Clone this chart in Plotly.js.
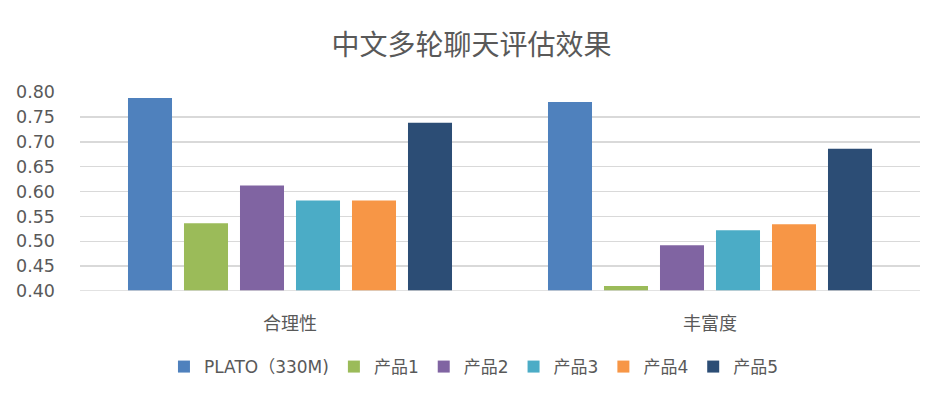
<!DOCTYPE html>
<html><head><meta charset="utf-8">
<script src="https://cdn.plot.ly/plotly-3.0.1.min.js"></script>
<style>body{margin:0;background:#fff}#chart{width:943px;height:397px}</style>
</head><body><div id="chart"></div>
<script>
const categories = ["合理性", "丰富度"];
const seriesNames = ["PLATO（330M)", "产品1", "产品2", "产品3", "产品4", "产品5"];
const plato = [0.788, 0.780];
const p1 = [0.536, 0.410];
const p2 = [0.612, 0.492];
const p3 = [0.582, 0.522];
const p4 = [0.582, 0.534];
const p5 = [0.738, 0.686];
const colors = ["#4f81bd", "#9bbb59", "#8064a2", "#4bacc6", "#f79646", "#2c4d75"];
const yTicks = [0.40, 0.45, 0.50, 0.55, 0.60, 0.65, 0.70, 0.75, 0.80];

const allVals = [plato, p1, p2, p3, p4, p5];
const font = "DejaVu Sans, Noto Sans CJK SC, sans-serif";
const traces = allVals.map((v, i) => ({
  type: "bar", x: categories, y: v, name: seriesNames[i],
  marker: {color: colors[i]}, hoverinfo: "y"
}));
const layout = {
  width: 943, height: 397,
  margin: {l: 80, r: 23, t: 92, b: 106},
  paper_bgcolor: "#fff", plot_bgcolor: "#fff",
  title: {text: "中文多轮聊天评估效果", x: 0.5, xanchor: "center", y: 0.887, yanchor: "middle",
    font: {family: "Noto Sans CJK SC, sans-serif", size: 28, color: "#595959"}},
  barmode: "group", bargap: 0.2, bargroupgap: 0.214,
  xaxis: {showgrid: false, showline: false, ticks: "", ticklabelstandoff: 20,
    tickfont: {family: "Noto Sans CJK SC, sans-serif", size: 18, color: "#595959"}},
  yaxis: {range: [0.4, 0.8], tickvals: yTicks, ticktext: yTicks.map(v => v.toFixed(2)),
    showgrid: true, gridcolor: "#d9d9d9", gridwidth: 1.5, zeroline: false, showline: false,
    ticks: "", ticklabelstandoff: 24,
    tickfont: {family: font, size: 17.5, color: "#595959"}},
  legend: {orientation: "h", x: 0.469, xanchor: "center", y: -0.382, yanchor: "middle",
    font: {family: font, size: 17, color: "#595959"}, itemwidth: 30, traceorder: "normal"},
  shapes: [{type: "line", xref: "paper", yref: "y", x0: 0, x1: 1, y0: 0.4, y1: 0.4,
    line: {color: "#d9d9d9", width: 1.5}}],
  showlegend: true
};
Plotly.newPlot("chart", traces, layout, {displayModeBar: false, staticPlot: true});
</script></body></html>
